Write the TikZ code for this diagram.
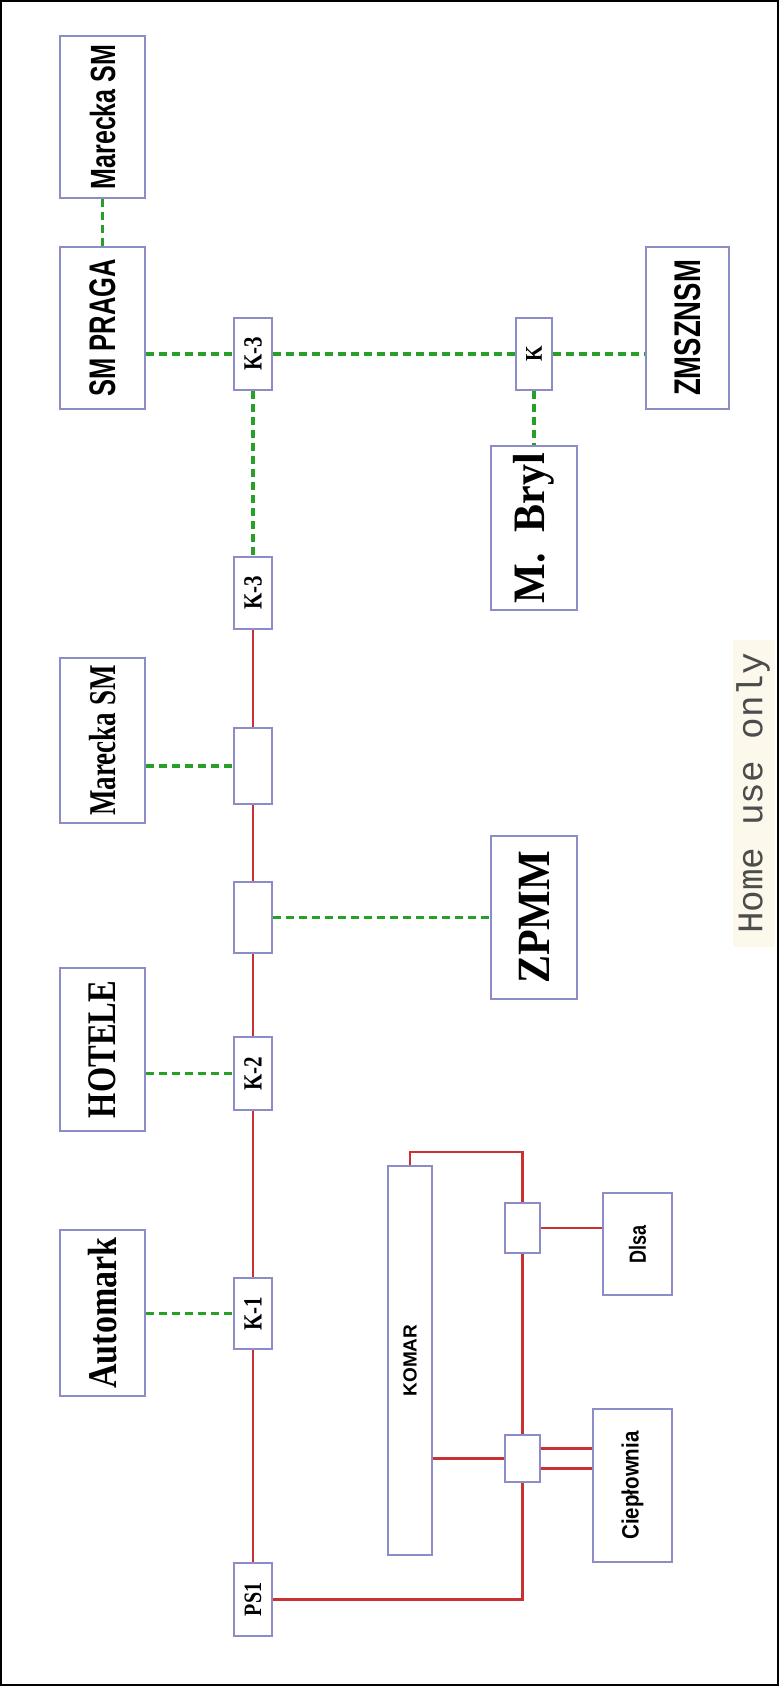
\documentclass[tikz,border=0pt]{standalone}
\usepackage{fontspec}
\usepackage{graphicx}
\setmainfont{Liberation Serif}
\newfontfamily\sansf{Liberation Sans}
\newfontfamily\monof{Liberation Mono}
\usetikzlibrary{calc}
\definecolor{boxc}{RGB}{140,140,200}
\definecolor{redl}{RGB}{200,50,50}
\definecolor{grnl}{RGB}{40,160,40}
\definecolor{beigebg}{RGB}{252,248,236}
\newcommand{\lab}[3]{\rotatebox{90}{\fontsize{#1}{#1}\selectfont\bfseries\scalebox{1}[#2]{#3}}}
\begin{document}
\begin{tikzpicture}[x=1pt,y=-1pt,
  bx/.style={draw=boxc, line width=1.6pt, fill=white, inner sep=0pt, rectangle},
  gd/.style={draw=grnl, line width=3.3pt, dash pattern=on 8pt off 5pt},
  rl/.style={draw=redl, line width=1.7pt},
  rt/.style={draw=redl, line width=2.6pt}]
\useasboundingbox (0,0) rectangle (779,1686);
\fill[beigebg] (733,640) rectangle (775,947);
\draw[line width=2.2pt] (1.1,1.1) rectangle (777.9,1684.9);

% upper part
\node[bx, minimum width=85pt, minimum height=162pt] (mar1) at (102.5,117) {\lab{25}{1.4}{\sansf\bfseries Marecka SM}};
\node[bx, minimum width=85pt, minimum height=162pt] (praga) at (102.5,328) {\lab{25.5}{1.45}{\sansf\bfseries SM PRAGA}};
\node[bx, minimum width=83pt, minimum height=162pt] (zms) at (687.5,328) {\lab{27.5}{1.35}{\sansf\bfseries ZMSZNSM}};
\node[bx, minimum width=38pt, minimum height=72pt] (k3a) at (253,354) {\lab{21}{1.25}{K-3}};
\node[bx, minimum width=36pt, minimum height=72pt] (kk) at (534,354) {\lab{20}{1.2}{K}};
\node[bx, minimum width=86pt, minimum height=164pt] (bryl) at (534,528) {\lab{42}{1.07}{M.\ \ Bryl}};
\node[bx, minimum width=38pt, minimum height=72pt] (k3b) at (253,593) {\lab{21}{1.25}{K-3}};

% middle
\node[bx, minimum width=85pt, minimum height=165pt] (mar2) at (102.5,740.5) {\lab{27}{1.4}{Marecka SM}};
\node[bx, minimum width=38pt, minimum height=76pt] (e1) at (253,766) {};
\node[bx, minimum width=38pt, minimum height=71pt] (e2) at (253,917.5) {};
\node[bx, minimum width=86pt, minimum height=163pt] (zpmm) at (534,917.5) {\lab{42}{1.1}{ZPMM}};
\node[bx, minimum width=85pt, minimum height=163pt] (hotele) at (102.5,1049.5) {\lab{32.5}{1.25}{HOTELE}};
\node[bx, minimum width=38pt, minimum height=73pt] (k2) at (253,1073.5) {\lab{21}{1.25}{K-2}};

% lower
\node[bx, minimum width=85pt, minimum height=166pt] (automark) at (102.5,1313) {\lab{34}{1.2}{Automark}};
\node[bx, minimum width=38pt, minimum height=71pt] (k1) at (253,1313.5) {\lab{21}{1.25}{K-1}};
\node[bx, minimum width=38pt, minimum height=73pt] (ps1) at (253,1599.5) {\lab{20}{1.25}{PS1}};
\node[bx, minimum width=44pt, minimum height=389pt] (komar) at (410,1360.5) {\lab{19}{1.0}{\sansf\bfseries KOMAR}};
\node[bx, minimum width=35pt, minimum height=50pt] (sb1) at (522.5,1228) {};
\node[bx, minimum width=35pt, minimum height=47pt] (sb2) at (522.5,1458.5) {};
\node[bx, minimum width=69pt, minimum height=102pt] (dlsa) at (637.5,1244) {\lab{18}{1.3}{\sansf\bfseries Dlsa}};
\node[bx, minimum width=79pt, minimum height=153pt] (ciep) at (632.5,1485.5) {\lab{20.5}{1.15}{\sansf\bfseries Ciepłownia}};

\node[text=black!70, inner sep=0pt] (home) at (753,793.5) {\rotatebox{90}{\fontsize{36}{36}\selectfont\monof Home use only}};

% green dashed links
\draw[gd] (mar1.south) -- (praga.north);
\draw[gd] (k3a.west -| praga.east) -- (k3a.west);
\draw[gd] (k3a.east) -- (kk.west);
\draw[gd] (kk.east) -- (kk.east -| zms.west);
\draw[gd] (k3a.south) -- (k3b.north);
\draw[gd] (kk.south) -- (bryl.north);
\draw[gd] (e1.west -| mar2.east) -- (e1.west);
\draw[gd] (e2.east) -- (e2.east -| zpmm.west);
\draw[gd] (k2.west -| hotele.east) -- (k2.west);
\draw[gd] (k1.west -| automark.east) -- (k1.west);

% red links
\draw[rl] (k3b.south) -- (e1.north);
\draw[rl] (e1.south) -- (e2.north);
\draw[rl] (e2.south) -- (k2.north);
\draw[rl] (k2.south) -- (k1.north);
\draw[rl] (k1.south) -- (ps1.north);
\draw[rt] (ps1.east) -| (sb2.south);
\draw[rt] (sb2.north) -- (sb1.south);
\coordinate (kb) at (410,1152);
\draw[rt] (komar.north) -- (kb) -| (sb1.north);
\draw[rt] (sb1.east) -- (sb1.east -| dlsa.west);
\draw[rt] (sb2.west -| komar.east) -- (sb2.west);
\draw[rt] ($(sb2.east)+(0,-10)$) -- ($(sb2.east -| ciep.west)+(0,-10)$);
\draw[rt] ($(sb2.east)+(0,10)$) -- ($(sb2.east -| ciep.west)+(0,10)$);
\end{tikzpicture}
\end{document}
